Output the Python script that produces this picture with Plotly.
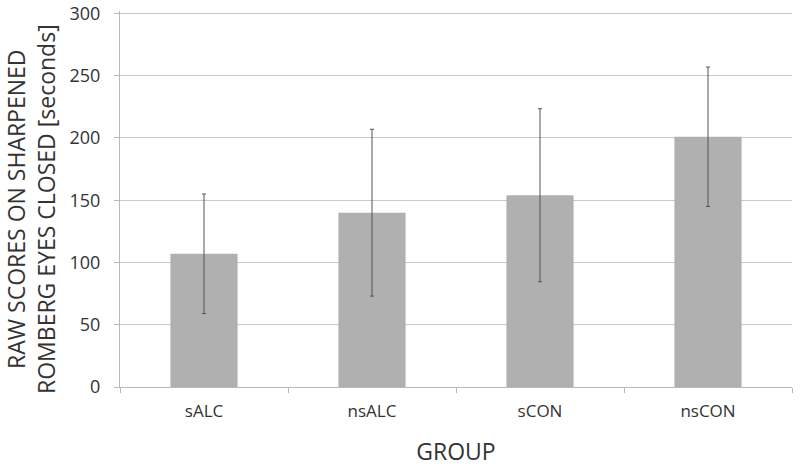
import plotly.graph_objects as go

groups = ["sALC", "nsALC", "sCON", "nsCON"]
means = [107, 140, 154, 201]
errors = [48, 67, 69.5, 56]
y_ticks = [0, 50, 100, 150, 200, 250, 300]
y_title = "RAW SCORES ON SHARPENED<br>ROMBERG EYES CLOSED [seconds]"
x_title = "GROUP"

FONT = "Open Sans"
TXT = "#333333"

fig = go.Figure(
    go.Bar(
        x=groups,
        y=means,
        width=0.4,
        marker=dict(color="#b0b0b0", line=dict(width=0)),
        error_y=dict(type="data", array=errors, visible=True,
                     color="#555555", thickness=1, width=2),
    )
)

fig.update_layout(
    width=800, height=469,
    margin=dict(l=120, r=8, t=11, b=82),
    paper_bgcolor="white", plot_bgcolor="white",
    showlegend=False,
    font=dict(family=FONT, color=TXT),
    bargap=0.6,
)

fig.update_xaxes(
    automargin=False,
    tickson="boundaries", ticks="outside", ticklen=5, tickcolor="#b8b8b8",
    ticklabelstandoff=9,
    showline=True, linecolor="#b8b8b8", linewidth=1,
    showgrid=False,
    tickfont=dict(size=17, color=TXT, family=FONT),
    title=dict(text=x_title, font=dict(size=23, color=TXT, family=FONT), standoff=22),
)

fig.update_yaxes(
    automargin=False,
    range=[0, 302], tickvals=y_ticks,
    ticks="outside", ticklen=5, tickcolor="#b8b8b8",
    ticklabelstandoff=10, ticklabeloverflow="allow",
    showline=True, linecolor="#b8b8b8", linewidth=1,
    showgrid=True, gridcolor="#c8c8c8", gridwidth=1,
    zeroline=False,
    tickfont=dict(size=18, color=TXT, family=FONT),
)

fig.add_annotation(
    text=y_title, textangle=-90,
    xref="paper", yref="paper", x=0, y=0.5,
    xanchor="center", yanchor="middle",
    xshift=-89, yshift=-10,
    showarrow=False,
    font=dict(size=23, color=TXT, family=FONT),
)

fig.write_html("out.html", config={"displayModeBar": False},
               post_script="document.body.style.margin='0';")
